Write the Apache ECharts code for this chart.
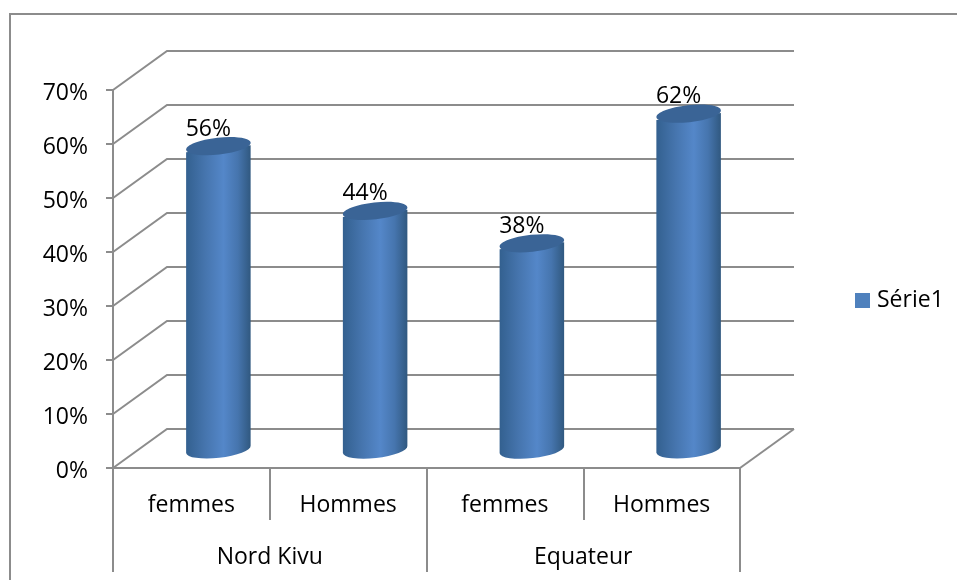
<!DOCTYPE html>
<html>
<head>
<meta charset="utf-8">
<style>
  html, body { margin: 0; padding: 0; background: #fff; }
  #chart { width: 957px; height: 580px; }
</style>
</head>
<body>
<div id="chart"></div>
<script src="https://cdn.jsdelivr.net/npm/echarts@6/dist/echarts.min.js"></script>
<script>
const categories = ['femmes', 'Hommes', 'femmes', 'Hommes']
const groups = ['Nord Kivu', 'Equateur']
const seriesName = 'Série1'
const values = [0.56, 0.44, 0.38, 0.62]
const yTicks = [0, 0.1, 0.2, 0.3, 0.4, 0.5, 0.6, 0.7]

const fontFamily = 'Open Sans'
const fontSize = 23
const lineColor = '#8c8c8c'
const lineWidth = 2
const textColor = '#000'
const depthX = 54
const depthY = -39

const sideGradient = new echarts.graphic.LinearGradient(0, 0, 1, 0, [
  { offset: 0, color: '#33608f' },
  { offset: 0.3, color: '#4675ae' },
  { offset: 0.58, color: '#5487c9' },
  { offset: 0.8, color: '#4675ae' },
  { offset: 1, color: '#30587f' },
])

// one bent line per tick: side wall then back wall
function renderWall(params, api) {
  const sys = params.coordSys
  const y = api.coord([0, api.value(1)])[1]
  return {
    type: 'polyline',
    shape: {
      points: [
        [sys.x, y],
        [sys.x + depthX, y + depthY],
        [sys.x + sys.width + depthX, y + depthY],
      ],
    },
    style: { fill: 'none', stroke: lineColor, lineWidth: lineWidth },
  }
}

function renderFloorEdge(params) {
  const sys = params.coordSys
  const y = sys.y + sys.height
  return {
    type: 'line',
    shape: {
      x1: sys.x + sys.width,
      y1: y,
      x2: sys.x + sys.width + depthX,
      y2: y + depthY,
    },
    style: { stroke: lineColor, lineWidth: lineWidth },
  }
}

function renderCylinder(params, api) {
  const top = api.coord([api.value(0), api.value(1)])
  const base = api.coord([api.value(0), 0])
  const band = api.size([1, 0])[0]
  const rx = band * 0.207
  const ry = 8.5
  const tilt = 0.11
  const cx = top[0] + depthX / 2
  const topY = top[1] + depthY / 2
  const baseY = base[1] + depthY / 2
  const dy = rx * tilt
  const body =
    `M ${cx - rx} ${topY + dy} L ${cx - rx} ${baseY + dy} ` +
    `A ${rx} ${ry} -6.3 0 0 ${cx + rx} ${baseY - dy} ` +
    `L ${cx + rx} ${topY - dy} Z`
  return {
    type: 'group',
    children: [
      {
        type: 'path',
        shape: { pathData: body, layout: 'center', x: cx - rx, y: topY - dy, width: rx * 2, height: baseY - topY + ry + dy * 2 },
        style: { fill: sideGradient },
      },
      {
        type: 'ellipse',
        shape: { cx: 0, cy: 0, rx: rx, ry: ry },
        x: cx,
        y: topY,
        rotation: tilt,
        style: { fill: '#3a6496' },
      },
      {
        type: 'text',
        x: cx - 10,
        y: topY - 17,
        style: {
          text: Math.round(api.value(1) * 100) + '%',
          fontFamily: fontFamily,
          fontSize: fontSize,
          fill: textColor,
          align: 'center',
          verticalAlign: 'middle',
        },
      },
    ],
  }
}

const chart = echarts.init(document.getElementById('chart'), null, { renderer: 'canvas' })

chart.setOption({
  animation: false,
  backgroundColor: '#fff',
  textStyle: { fontFamily: fontFamily },
  grid: { left: 113, right: 217, top: 90, bottom: 112 },
  legend: {
    data: [seriesName],
    left: 850,
    top: 284,
    icon: 'rect',
    itemWidth: 15,
    itemHeight: 15,
    itemGap: 0,
    textStyle: { fontFamily: fontFamily, fontSize: fontSize, color: textColor, padding: [2, 0, 0, 2] },
  },
  graphic: [
    {
      type: 'polyline',
      silent: true,
      z: 0,
      shape: { points: [[10, 580], [10, 14], [957, 14]] },
      style: { fill: 'none', stroke: lineColor, lineWidth: lineWidth },
    },
  ],
  xAxis: [
    {
      type: 'category',
      data: categories,
      position: 'bottom',
      axisLine: { lineStyle: { color: lineColor, width: lineWidth } },
      axisTick: { show: true, alignWithLabel: false, length: 52, lineStyle: { color: lineColor, width: lineWidth } },
      axisLabel: { interval: 0, margin: 26, fontSize: fontSize, color: textColor, fontFamily: fontFamily },
    },
    {
      type: 'category',
      data: groups,
      position: 'bottom',
      axisLine: { show: false },
      axisTick: { show: true, length: 104, lineStyle: { color: lineColor, width: lineWidth } },
      axisLabel: { interval: 0, margin: 78, fontSize: fontSize, color: textColor, fontFamily: fontFamily },
    },
  ],
  yAxis: {
    type: 'value',
    min: 0,
    max: 0.7,
    interval: 0.1,
    axisLine: { show: true, lineStyle: { color: lineColor, width: lineWidth } },
    axisTick: { show: true, length: 7, lineStyle: { color: lineColor, width: lineWidth } },
    splitLine: { show: false },
    axisLabel: {
      margin: 25,
      formatter: value => '{tick|' + Math.round(value * 100) + '%}',
      rich: {
        tick: {
          fontSize: fontSize,
          color: textColor,
          fontFamily: fontFamily,
          padding: [6, 0, 0, 0],
        },
      },
    },
  },
  series: [
    {
      type: 'custom',
      silent: true,
      z: 1,
      renderItem: renderWall,
      encode: { x: 0, y: 1 },
      data: yTicks.map(tick => [0, tick]),
    },
    {
      type: 'custom',
      silent: true,
      z: 1,
      renderItem: renderFloorEdge,
      data: [[0, 0]],
    },
    {
      name: seriesName,
      type: 'custom',
      z: 2,
      itemStyle: { color: '#4f81bd' },
      renderItem: renderCylinder,
      encode: { x: 0, y: 1 },
      data: values.map((value, index) => [index, value]),
    },
  ],
})
</script>
</body>
</html>
